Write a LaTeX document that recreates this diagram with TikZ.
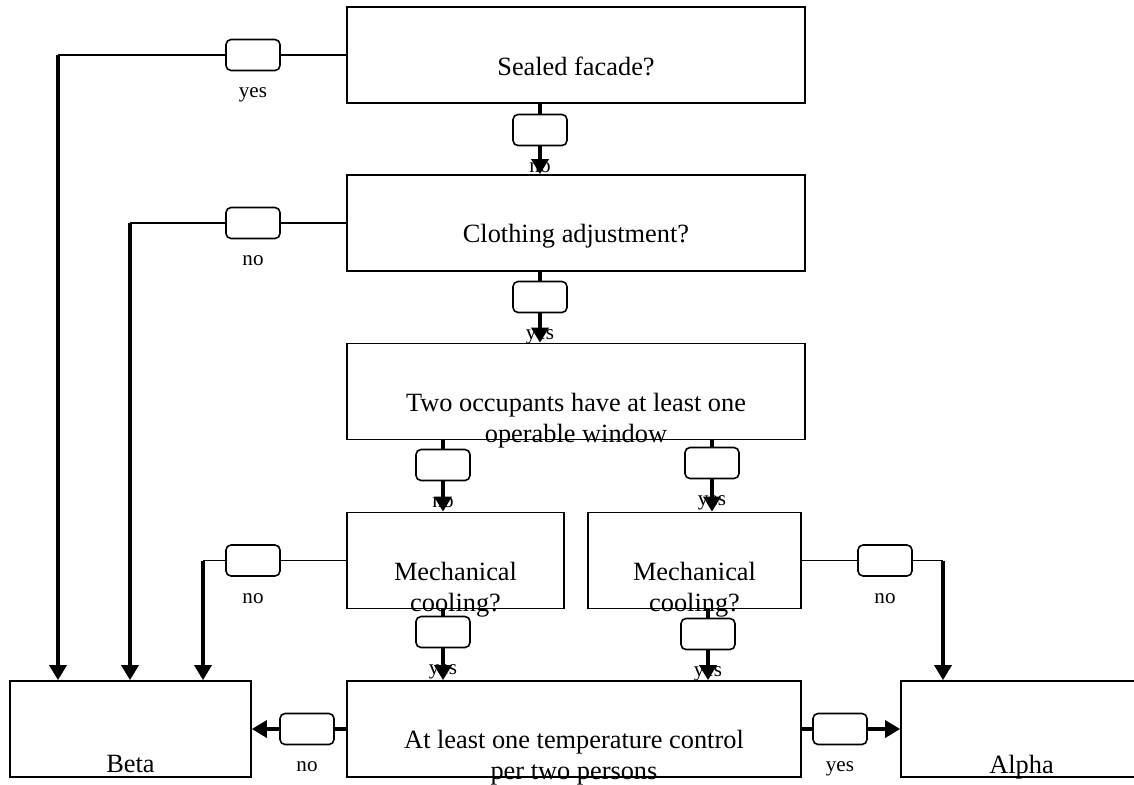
\documentclass[tikz,border=0pt]{standalone}
\usepackage{fontspec}
\setmainfont{Liberation Serif}
\usetikzlibrary{arrows.meta,positioning}
\tikzset{
decbox/.style={draw,line width=1pt,inner sep=0pt,minimum height=1.92cm},
gate/.style={draw,line width=.9pt,rounded corners=.1cm,inner sep=0pt,minimum width=1.08cm,minimum height=.62cm},
boxtext/.style={inner sep=0pt,align=center,font=\fontsize{15}{17.5}\selectfont},
answer/.style={inner sep=0pt,font=\fontsize{12}{14}\selectfont},
link/.style={line width=.8pt},
stem/.style={line width=1.9pt},
flow/.style={-{Triangle[length=.3cm,width=.34cm]},line width=1.9pt}
}
\begin{document}
\begin{tikzpicture}[x=.02cm,y=-.02cm]
\useasboundingbox(0,0)rectangle(1134,785);
\clip(0,0)rectangle(1134,785);
% question boxes
\node[decbox,minimum width=9.16cm](sealed)at(576,55){};
\node[decbox,minimum width=9.16cm](cloth)at(576,223){};
\node[decbox,minimum width=9.16cm](window)at(576,391.5){};
\node[decbox,minimum width=4.34cm](mechl)at(455.5,560.5){};
\node[decbox,minimum width=4.26cm](mechr)at(694.5,560.5){};
\node[decbox,minimum width=9.08cm](control)at(574,729){};
\node[decbox,minimum width=4.82cm](beta)at(130.5,729){};
\node[decbox,minimum width=5.3cm](alpha)at(1033.5,729){};
\node[boxtext,below=1cm of sealed.north](sealedtxt){Sealed facade?};
\node[boxtext,below=1cm of cloth.north](clothtxt){Clothing adjustment?};
\node[boxtext,below=1cm of window.north](windowtxt){Two occupants have at least one\\operable window};
\node[boxtext,below=1cm of mechl.north](mechltxt){Mechanical\\cooling?};
\node[boxtext,below=1cm of mechr.north](mechrtxt){Mechanical\\cooling?};
\node[boxtext,below=1cm of control.north](controltxt){At least one temperature control\\per two persons};
\node[boxtext,below=1.5cm of beta.north](betatxt){Beta};
\node[boxtext,below=1.5cm of alpha.north,xshift=-.24cm](alphatxt){Alpha};
% answer gates
\node[gate](g1)at(253,55){};
\node[gate](g2)at(253,223){};
\node[gate](g3)at(540,130){};
\node[gate](g4)at(540,297){};
\node[gate](g5)at(443,465){};
\node[gate](g6)at(712,463){};
\node[gate](g7)at(253,560.5){};
\node[gate](g8)at(443,632){};
\node[gate](g9)at(708,634){};
\node[gate](g10)at(885,560.5){};
\node[gate](g11)at(307,729){};
\node[gate](g12)at(840,729){};
\node[answer,below=.32cm of g1](a1){yes};
\node[answer,below=.32cm of g2](a2){no};
\node[answer,below=.32cm of g3](a3){no};
\node[answer,below=.32cm of g4](a4){yes};
\node[answer,below=.32cm of g5](a5){no};
\node[answer,below=.32cm of g6](a6){yes};
\node[answer,below=.32cm of g7](a7){no};
\node[answer,below=.32cm of g8](a8){yes};
\node[answer,below=.32cm of g9](a9){yes};
\node[answer,below=.32cm of g10](a10){no};
\node[answer,below=.32cm of g11](a11){no};
\node[answer,below=.32cm of g12](a12){yes};
% bends
\coordinate(c1)at(58,55);
\coordinate(c2)at(130,223);
\coordinate(c3)at(203,560.5);
\coordinate(c4)at(943,560.5);
\draw[link](sealed)--(g1);\draw[link](g1)--(c1);\draw[flow](c1)--(c1|-beta.north);
\draw[link](cloth)--(g2);\draw[link](g2)--(c2);\draw[flow](c2)--(c2|-beta.north);
\draw[link](mechl)--(g7);\draw[link](g7)--(c3);\draw[flow](c3)--(c3|-beta.north);
\draw[link](mechr)--(g10);\draw[link](g10)--(c4);\draw[flow](c4)--(c4|-alpha.north);
\draw[stem](sealed.south-|g3)--(g3);\draw[flow](g3)--(g3|-cloth.north);
\draw[stem](cloth.south-|g4)--(g4);\draw[flow](g4)--(g4|-window.north);
\draw[stem](window.south-|g5)--(g5);\draw[flow](g5)--(g5|-mechl.north);
\draw[stem](window.south-|g6)--(g6);\draw[flow](g6)--(g6|-mechr.north);
\draw[stem](mechl.south-|g8)--(g8);\draw[flow](g8)--(g8|-control.north);
\draw[stem](mechr.south-|g9)--(g9);\draw[flow](g9)--(g9|-control.north);
\draw[stem](control)--(g11);\draw[flow](g11)--(beta);
\draw[stem](control)--(g12);\draw[flow](g12)--(alpha);
\end{tikzpicture}
\end{document}
